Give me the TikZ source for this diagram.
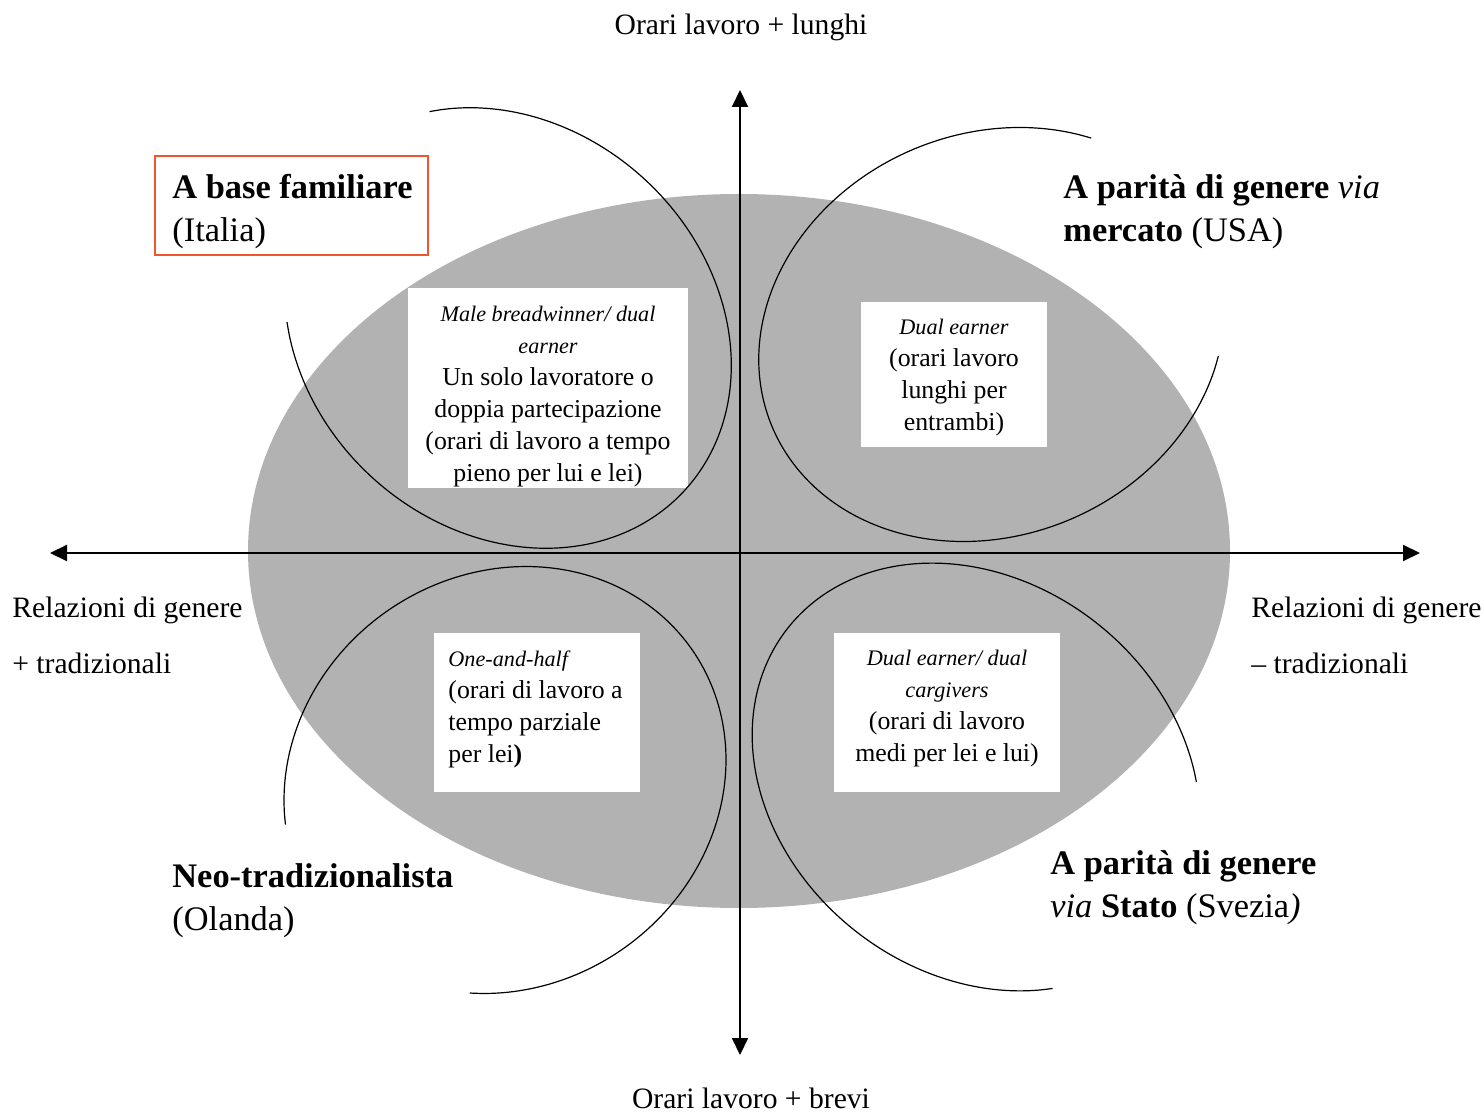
\documentclass[tikz,border=0pt]{standalone}
\usepackage{fontspec}
\setmainfont{Liberation Serif}
\usetikzlibrary{arrows.meta}

\definecolor{ovalgrey}{RGB}{178,178,178}
\definecolor{frame}{RGB}{240,85,45}
\newcommand{\modello}[1]{{\fontsize{11.1}{16}\selectfont\itshape #1}}
% centro x, centro y, semiassi a e b, rotazione, angolo iniziale e finale
\newcommand{\arcoellisse}[7]{%
	\draw[swirl] plot[smooth, samples=90, domain=#6:#7, variable=\p]
		({#1+#3*cos(\p)*cos(#5)-#4*sin(\p)*sin(#5)}, {#2+#3*cos(\p)*sin(#5)+#4*sin(\p)*cos(#5)});}

\tikzset{
  axis/.style={line width=1pt, -{Triangle[length=8.5pt,width=8pt]}},
  swirl/.style={line width=0.6pt},
  whitebox/.style={fill=white, inner sep=0pt},
  boxtext/.style={align=center, inner sep=0pt, font=\fontsize{12.9}{16}\selectfont},
  regime/.style={anchor=west, align=left, inner sep=0pt, font=\fontsize{17.2}{21.5}\selectfont},
  axislabel/.style={inner sep=0pt, align=left, font=\fontsize{14.8}{28}\selectfont},
}

\begin{document}
\begin{tikzpicture}[x=0.5pt, y=-0.5pt]
	\useasboundingbox (0,0) rectangle (1484,1112);
	\fill[ovalgrey] (739,551) ellipse [x radius=245.5pt, y radius=178.5pt];

	% assi
	\coordinate (o) at (740,553);
	\coordinate (w) at (50,553);
	\coordinate (e) at (1420,553);
	\coordinate (n) at (740,90);
	\coordinate (s) at (740,1055);
	\draw[axis] (o) -- (w);
	\draw[axis] (o) -- (e);
	\draw[axis] (o) -- (n);
	\draw[axis] (o) -- (s);

	\node[axislabel] (lunghi) at (741,27) {Orari lavoro + lunghi};
	\node[axislabel] (brevi) at (751,1098) {Orari lavoro + brevi};
	\node[axislabel, anchor=west] (piutrad) at (12,635) {Relazioni di genere\\+ tradizionali};
	\node[axislabel, anchor=west] (menotrad) at (1251,635) {Relazioni di genere\\– tradizionali};

	% modelli
	\node[whitebox, minimum width=140pt, minimum height=100pt] (breadwinner) at (548,388) {};
	\node[whitebox, minimum width=93pt, minimum height=72.5pt] (dualearner) at (954,374.5) {};
	\node[whitebox, minimum width=103pt, minimum height=79.5pt] (oneandhalf) at (537,712.5) {};
	\node[whitebox, minimum width=113pt, minimum height=79.5pt] (dualcarer) at (947,712.5) {};
	\node[boxtext] (breadwinnertxt) at (548,396.5)
		{\modello{Male breadwinner/ dual}\\\modello{earner}\\Un solo lavoratore o\\doppia partecipazione\\(orari di lavoro a tempo\\pieno per lui e lei)};
	\node[boxtext] (dualearnertxt) at (954,378)
		{\modello{Dual earner}\\(orari lavoro\\lunghi per\\entrambi)};
	\node[boxtext, align=left] (oneandhalftxt) at (535.5,709.5)
		{\modello{One-and-half}\\(orari di lavoro a\\tempo parziale\\per lei\textbf{)}};
	\node[boxtext] (dualcarertxt) at (947,709)
		{\modello{Dual earner/ dual}\\\modello{cargivers}\\(orari di lavoro\\medi per lei e lui)};

	% regimi
	\draw[frame, line width=0.6pt] (155,156) rectangle (428,255);
	\node[regime] (italia) at (172,212) {\textbf{A base familiare}\\(Italia)};
	\node[regime] (usa) at (1063,212) {\textbf{A parità di genere} \textit{via}\\\textbf{mercato} (USA)};
	\node[regime] (olanda) at (172,901) {\textbf{Neo-tradizionalista}\\(Olanda)};
	\node[regime] (svezia) at (1050,887.5) {\textbf{A parità di genere}\\\textit{via} \textbf{Stato} (Svezia\textit{)}};

	\arcoellisse{508}{328}{240}{202}{42.7}{211.6}{493.9}
	\arcoellisse{991.5}{334.5}{238}{201}{-22.9}{-327.4}{-45}
	\arcoellisse{505}{780}{228}{206}{-35}{205.7}{491.5}
	\arcoellisse{976}{777}{240}{195.6}{38.5}{-322.95}{-43}
\end{tikzpicture}
\end{document}
